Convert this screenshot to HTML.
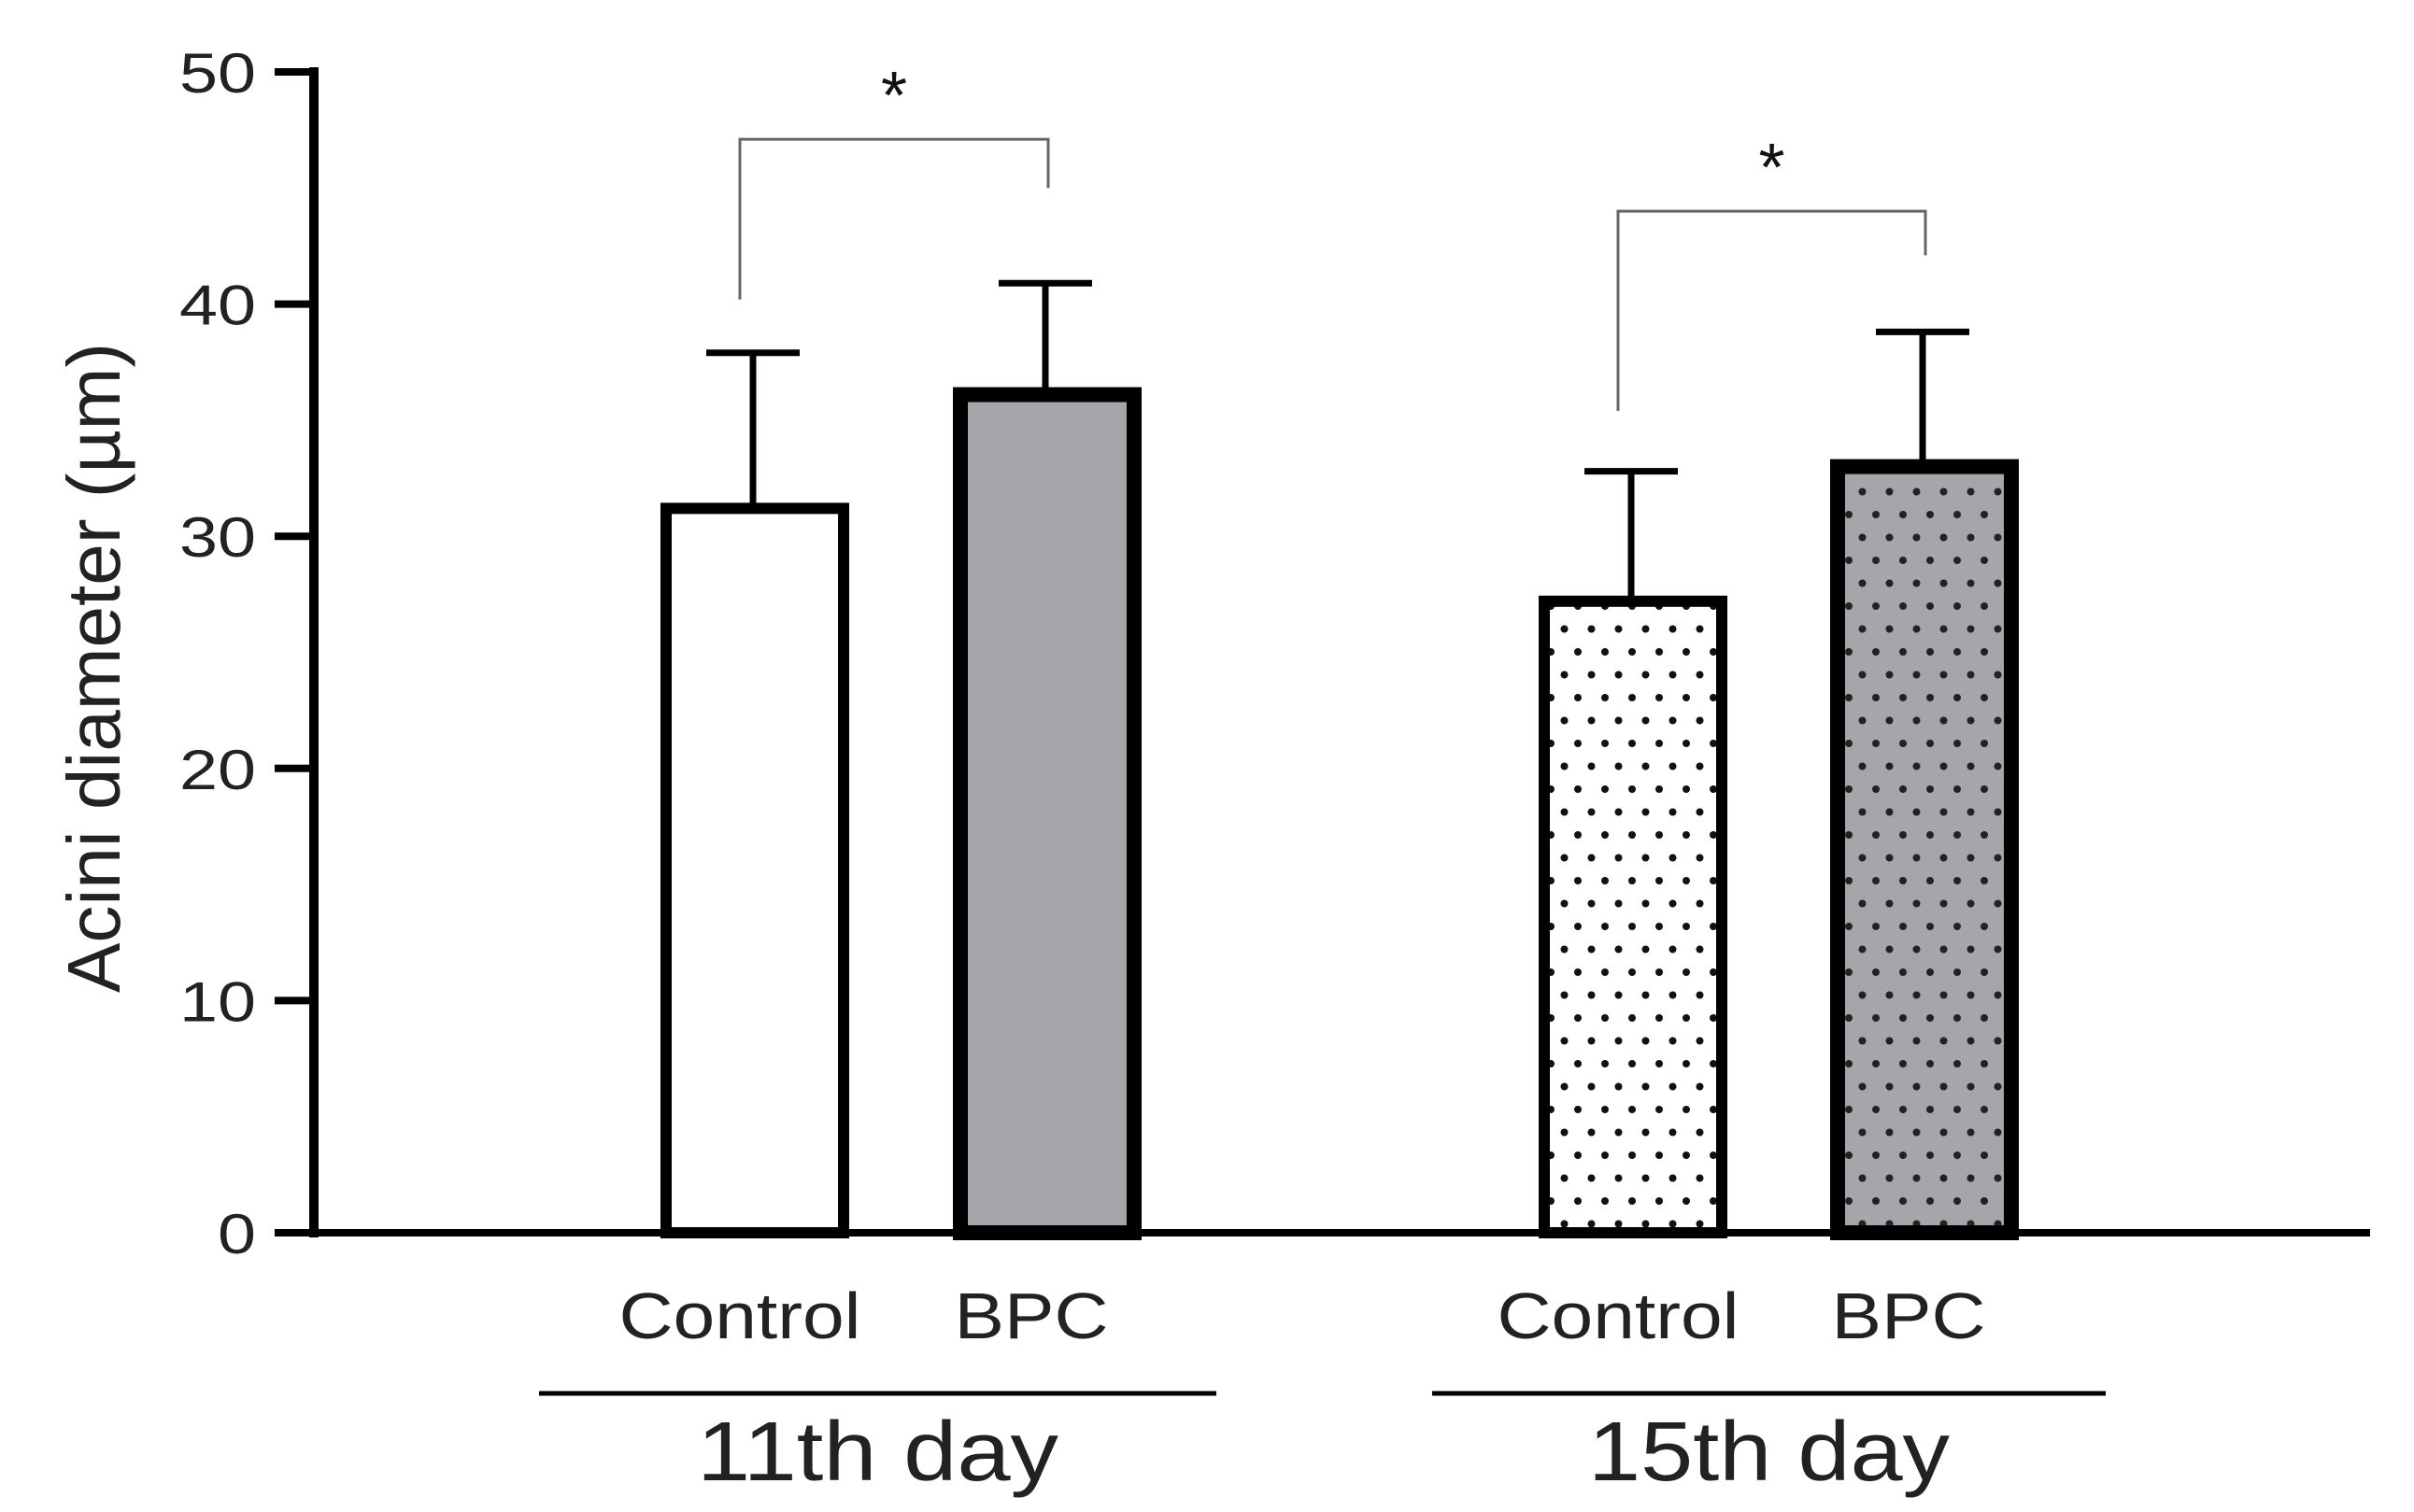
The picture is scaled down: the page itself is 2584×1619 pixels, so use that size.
<!DOCTYPE html>
<html><head><meta charset="utf-8"><style>
html,body{margin:0;padding:0;background:#fff;}
svg{display:block;font-family:"Liberation Sans",Arial,sans-serif;}
</style></head><body>
<svg id="chart" width="2584" height="1619" viewBox="0 0 2584 1619" xmlns="http://www.w3.org/2000/svg">
<defs>
<pattern id="dotsW" patternUnits="userSpaceOnUse" width="29" height="49" x="0" y="0">
<rect width="29" height="49" fill="#fff"/>
<circle cx="7" cy="12" r="4" fill="#111"/>
<circle cx="21.5" cy="36.5" r="4" fill="#111"/>
</pattern>
<pattern id="dotsG" patternUnits="userSpaceOnUse" width="29" height="49" x="0" y="0">
<rect width="29" height="49" fill="#a6a5aa"/>
<circle cx="7" cy="12" r="4" fill="#222"/>
<circle cx="21.5" cy="36.5" r="4" fill="#222"/>
</pattern>
</defs>
<g id="plot"></g>
</svg>
<script>
const categories = ["Control", "BPC", "Control", "BPC"];
const groups = ["11th day", "15th day"];
const means = [31.2, 36.1, 27.2, 33.0];
const errors = [6.7, 4.8, 5.6, 5.8];
const yTicks = [0, 10, 20, 30, 40, 50];
const sigLabels = ["*", "*"];
const bracketLeft = [40.2, 35.4];
const bracketRight = [45.0, 42.1];
const bracketTop = [47.1, 44.0];

const NS = "http://www.w3.org/2000/svg";
const g = document.getElementById("plot");
const y0 = 1320, yTop = 77, yMax = 50;
const yS = v => y0 - (y0 - yTop) * v / yMax;
const barCenters = [806, 1119, 1746, 2058];
const barW = 190;
const fills = ["#fff", "#a6a5aa", "url(#dotsW)", "url(#dotsG)"];
const strokes = [12, 16, 12, 16];

function mk(tag, attrs, parent) {
  const e = document.createElementNS(NS, tag);
  for (const k in attrs) e.setAttribute(k, attrs[k]);
  (parent || g).appendChild(e);
  return e;
}

means.forEach((v, i) => {
  const cx = barCenters[i];
  const top = yS(v);
  const eTop = yS(v + errors[i]);
  const eb = mk("line", {x1: cx, x2: cx, y1: top, y2: eTop, stroke: "#000", "stroke-width": 7});
  
  
  const cap = mk("line", {x1: cx - 50, x2: cx + 50, y1: eTop, y2: eTop, stroke: "#000", "stroke-width": 7});
  
  
  const sw = strokes[i];
  const r = mk("rect", {x: cx - barW / 2 + sw / 2 - 4, y: top, width: barW - sw + 8 + 4, height: y0 - top, fill: fills[i], stroke: "#000", "stroke-width": sw});
  
  
});

const ya = mk("line", {x1: 336, x2: 336, y1: 72, y2: y0 + 5, stroke: "#000", "stroke-width": 10});


const xa = mk("line", {x1: 331, x2: 2537, y1: y0, y2: y0, stroke: "#000", "stroke-width": 8});



yTicks.forEach(t => {
  const yy = yS(t);
  const tk = mk("line", {x1: 294, x2: 336, y1: yy, y2: yy, stroke: "#000", "stroke-width": 8});
  
  
  const s = String(t);
  const tl = mk("text", {x: 274, y: yy + 22, "text-anchor": "end", "font-size": 60, fill: "#222", textLength: 41 * s.length, lengthAdjust: "spacingAndGlyphs"});
  tl.textContent = s;
  
  
});

const yt = mk("text", {transform: "translate(128,715) rotate(-90)", "text-anchor": "middle", "font-size": 80, fill: "#222", textLength: 696, lengthAdjust: "spacingAndGlyphs"});
yt.textContent = "Acini diameter (\u00b5m)";



categories.forEach((c, i) => {
  const t = mk("text", {x: barCenters[i] - (c === "Control" ? 14 : 15), y: 1433, "text-anchor": "middle", "font-size": 70, fill: "#222", textLength: c === "Control" ? 259 : 165, lengthAdjust: "spacingAndGlyphs"});
  t.textContent = c;
  
  
});

const gSpan = [[577, 1302], [1533, 2254]];
groups.forEach((gn, i) => {
  const l = mk("line", {x1: gSpan[i][0], x2: gSpan[i][1], y1: 1492, y2: 1492, stroke: "#000", "stroke-width": 5});
  
  
  const t = mk("text", {x: (gSpan[i][0] + gSpan[i][1]) / 2, y: 1585, "text-anchor": "middle", "font-size": 90, fill: "#222", textLength: 387, lengthAdjust: "spacingAndGlyphs"});
  t.textContent = gn;
  
  
});

const bracketPairs = [[0, 1], [2, 3]];
bracketPairs.forEach((b, i) => {
  const xl = barCenters[b[0]] - 14, xr = barCenters[b[1]] + 3;
  const yl = yS(bracketLeft[i]), yr = yS(bracketRight[i]), yt2 = yS(bracketTop[i]);
  const p = mk("path", {d: `M${xl},${yl} L${xl},${yt2} L${xr},${yt2} L${xr},${yr}`, fill: "none", stroke: "#666", "stroke-width": 3});
  
  
  const s = mk("text", {x: (xl + xr) / 2, y: yt2 - 22, "text-anchor": "middle", "font-size": 72, fill: "#111"});
  s.textContent = sigLabels[i];
  
  
});
</script>
</body></html>
